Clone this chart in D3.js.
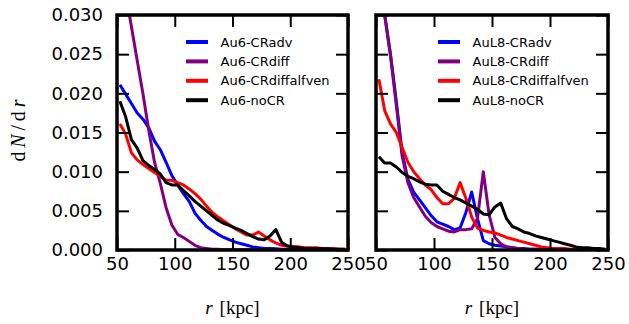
<!DOCTYPE html>
<html>
<head>
<meta charset="utf-8">
<script src="https://cdn.jsdelivr.net/npm/d3@7"></script>
<style>
  body { margin: 0; background: #fff; }
  svg { display: block; }
</style>
</head>
<body>
<svg id="chart" width="629" height="324"></svg>
<script>
// Radial bin centres (kpc)
const radius = d3.range(40).map(i => 52.5 + 5 * i);

const xTicks = [50, 100, 150, 200, 250];
const yTicks = [0, 0.005, 0.010, 0.015, 0.020, 0.025, 0.030];

const namesAu6 = ["Au6-CRadv", "Au6-CRdiff", "Au6-CRdiffalfven", "Au6-noCR"];
const namesAuL8 = ["AuL8-CRadv", "AuL8-CRdiff", "AuL8-CRdiffalfven", "AuL8-noCR"];
const seriesColors = ["#0000ff", "#800080", "#ff0000", "#000000"];

// dN/dr profiles, Au6 halo
const au6CRadv = [0.0211, 0.0199, 0.0187, 0.0175, 0.0167, 0.0156, 0.0139, 0.0128, 0.0112, 0.0095,
  0.0083, 0.0072, 0.0062, 0.0047, 0.0038, 0.0030, 0.0025, 0.0020, 0.0016, 0.0013,
  0.0010, 0.0008, 0.0006, 0.0004, 0.0003, 0.0002, 0.0002, 0.00015, 0.0001, 0.0001,
  0.00005, 0.00005, 0.00005, 0.00005, 0.00005, 0.00005, 0.00005, 0.00005, 0.00005, 0.00005];
const au6CRdiff = [0.037, 0.0328, 0.0285, 0.0242, 0.0199, 0.0153, 0.0112, 0.0085, 0.0054, 0.0032,
  0.0020, 0.0016, 0.0011, 0.0006, 0.0003, 0.0002, 0.0001, 0.0001, 0.00003, 0.00003,
  0.00003, 0.00003, 0.00003, 0.00003, 0.00003, 0.00003, 0.00003, 0.00003, 0.00003, 0.00003,
  0.00003, 0.00003, 0.00003, 0.00003, 0.00003, 0.00003, 0.00003, 0.00003, 0.00003, 0.00003];
const au6CRdiffalfven = [0.0161, 0.0148, 0.0124, 0.0115, 0.0109, 0.0104, 0.0099, 0.0094, 0.0089, 0.0089,
  0.0086, 0.0083, 0.0078, 0.0072, 0.0065, 0.0056, 0.0048, 0.0042, 0.0037, 0.0032,
  0.0027, 0.0023, 0.0019, 0.0019, 0.0023, 0.0018, 0.0013, 0.0009, 0.0006, 0.0005,
  0.0004, 0.0004, 0.0003, 0.0003, 0.0003, 0.0002, 0.0002, 0.0002, 0.0001, 0.0001];
const au6NoCR = [0.0190, 0.0170, 0.0141, 0.0130, 0.0114, 0.0108, 0.0103, 0.0097, 0.0086, 0.0083,
  0.0083, 0.0076, 0.0069, 0.0062, 0.0056, 0.0050, 0.0044, 0.0038, 0.0034, 0.0031,
  0.0028, 0.0025, 0.0021, 0.0017, 0.0014, 0.0013, 0.0018, 0.0026, 0.0010, 0.0005,
  0.0004, 0.0003, 0.0002, 0.0002, 0.0002, 0.00015, 0.00015, 0.0001, 0.0001, 0.0001];

// dN/dr profiles, AuL8 halo
const auL8CRadv = [0.036, 0.030, 0.0250, 0.0190, 0.0125, 0.0090, 0.0074, 0.0064, 0.0054, 0.0044,
  0.0036, 0.0033, 0.0030, 0.0026, 0.0028, 0.0048, 0.0074, 0.0040, 0.0012, 0.0008,
  0.0006, 0.0005, 0.0004, 0.0003, 0.0002, 0.0002, 0.0001, 0.0001, 0.0001, 0.00005,
  0.00005, 0.00005, 0.00005, 0.00005, 0.00005, 0.00005, 0.00005, 0.00005, 0.00005, 0.00005];
const auL8CRdiff = [0.036, 0.030, 0.0248, 0.0185, 0.0120, 0.0086, 0.0067, 0.0055, 0.0043, 0.0035,
  0.0030, 0.0027, 0.0024, 0.0023, 0.0026, 0.0026, 0.0027, 0.0040, 0.0100, 0.0045,
  0.0016, 0.0008, 0.0004, 0.0003, 0.0002, 0.0001, 0.0001, 0.0001, 0.0001, 0.0001,
  0.00005, 0.00005, 0.00005, 0.00005, 0.00005, 0.00005, 0.00005, 0.00005, 0.00005, 0.00005];
const auL8CRdiffalfven = [0.0218, 0.0178, 0.0161, 0.0150, 0.0131, 0.0112, 0.0100, 0.0091, 0.0083, 0.0077,
  0.0067, 0.0059, 0.0059, 0.0066, 0.0086, 0.0066, 0.0042, 0.0028, 0.0025, 0.0023,
  0.0022, 0.0019, 0.0016, 0.0014, 0.0012, 0.0010, 0.0008, 0.0006, 0.0004, 0.0003,
  0.0002, 0.0002, 0.0002, 0.0001, 0.0001, 0.0001, 0.0001, 0.0001, 0.00005, 0.00005];
const auL8NoCR = [0.0119, 0.0111, 0.0111, 0.0106, 0.0099, 0.0094, 0.0091, 0.0087, 0.0084, 0.0083,
  0.0083, 0.0075, 0.0071, 0.0067, 0.0064, 0.0060, 0.0056, 0.0052, 0.0046, 0.0045,
  0.0055, 0.0060, 0.0040, 0.0030, 0.0027, 0.0023, 0.0021, 0.0018, 0.0016, 0.0014,
  0.0012, 0.0010, 0.0008, 0.0006, 0.0004, 0.0003, 0.0003, 0.0002, 0.0002, 0.0001];

const svg = d3.select("#chart");
const plotTop = 15, plotBottom = 250;
const tickFont = "'DejaVu Sans', sans-serif";
const mathFont = "'Liberation Serif', 'DejaVu Serif', serif";

const panels = [
  { id: "au6", x0: 117, x1: 348, names: namesAu6,
    series: [au6CRadv, au6CRdiff, au6CRdiffalfven, au6NoCR], yLabels: true, legendX: 186 },
  { id: "aul8", x0: 376, x1: 608, names: namesAuL8,
    series: [auL8CRadv, auL8CRdiff, auL8CRdiffalfven, auL8NoCR], yLabels: false, legendX: 438 }
];

const defs = svg.append("defs");

panels.forEach(p => {
  const x = d3.scaleLinear().domain([50, 250]).range([p.x0, p.x1]);
  const y = d3.scaleLinear().domain([0, 0.03]).range([plotBottom, plotTop]);

  defs.append("clipPath").attr("id", "clip-" + p.id)
    .append("rect").attr("x", p.x0).attr("y", plotTop)
    .attr("width", p.x1 - p.x0).attr("height", plotBottom - plotTop);

  const line = d3.line().x((d, i) => x(radius[i])).y(d => y(d));

  const g = svg.append("g").attr("clip-path", `url(#clip-${p.id})`);
  p.series.forEach((s, k) => {
    g.append("path").datum(s)
      .attr("d", line)
      .attr("fill", "none")
      .attr("stroke", seriesColors[k])
      .attr("stroke-width", 3)
      .attr("stroke-linejoin", "round");
  });

  // axes with inward ticks on all four sides
  const axes = [
    svg.append("g").attr("transform", `translate(0,${plotBottom})`)
      .call(d3.axisBottom(x).tickValues(xTicks).tickSize(-12).tickPadding(7).tickFormat(d3.format("d"))),
    svg.append("g").attr("transform", `translate(0,${plotTop})`)
      .call(d3.axisTop(x).tickValues(xTicks).tickSize(-12).tickFormat("")),
    svg.append("g").attr("transform", `translate(${p.x0},0)`)
      .call(d3.axisLeft(y).tickValues(yTicks).tickSize(-12).tickPadding(14)
        .tickFormat(p.yLabels ? d3.format(".3f") : "")),
    svg.append("g").attr("transform", `translate(${p.x1},0)`)
      .call(d3.axisRight(y).tickValues(yTicks).tickSize(-12).tickFormat(""))
  ];
  axes.forEach(a => {
    a.select(".domain").remove();
    a.attr("font-family", tickFont).attr("font-size", 18);
    a.selectAll(".tick line").attr("stroke", "#000").attr("stroke-width", 2);
    a.selectAll(".tick text").attr("fill", "#000");
  });

  // frame
  svg.append("rect").attr("x", p.x0).attr("y", plotTop)
    .attr("width", p.x1 - p.x0).attr("height", plotBottom - plotTop)
    .attr("fill", "none").attr("stroke", "#000").attr("stroke-width", 3.5);

  // legend
  const lg = svg.append("g").attr("font-family", tickFont).attr("font-size", 13);
  p.names.forEach((n, k) => {
    const ly = 42 + k * 19.4;
    lg.append("line").attr("x1", p.legendX).attr("x2", p.legendX + 22)
      .attr("y1", ly).attr("y2", ly)
      .attr("stroke", seriesColors[k]).attr("stroke-width", 4);
    lg.append("text").attr("x", p.legendX + 34.5).attr("y", ly)
      .attr("dy", "0.35em").attr("fill", "#000").text(n);
  });

  // x-axis label
  const xl = svg.append("text")
    .attr("x", (p.x0 + p.x1) / 2).attr("y", 314)
    .attr("text-anchor", "middle")
    .attr("font-family", mathFont).attr("font-size", 19);
  xl.append("tspan").attr("font-style", "italic").text("r");
  xl.append("tspan").text("\u2009[kpc]").attr("dx", 3);
});

// y-axis label
const yl = svg.append("text")
  .attr("transform", `translate(25,${(plotTop + plotBottom) / 2 - 2}) rotate(-90)`)
  .attr("text-anchor", "middle")
  .attr("font-family", mathFont).attr("font-size", 20)
  .attr("textLength", 62).attr("lengthAdjust", "spacing");
yl.append("tspan").text("d");
yl.append("tspan").attr("font-style", "italic").text("N");
yl.append("tspan").text("/d");
yl.append("tspan").attr("font-style", "italic").text("r");
</script>
</body>
</html>
